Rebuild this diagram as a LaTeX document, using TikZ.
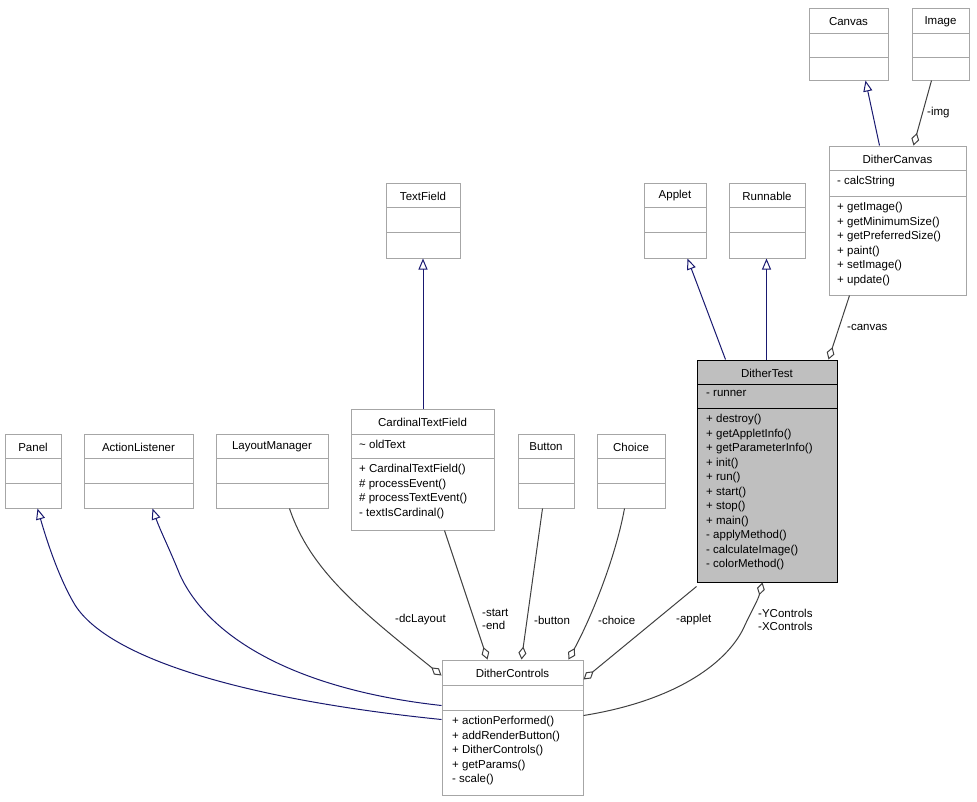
\documentclass[tikz,border=0pt]{standalone}
\usepackage{fontspec}
\setmainfont{Liberation Sans}
\usetikzlibrary{arrows.meta}
\definecolor{edgeblue}{HTML}{191970}
\definecolor{edgegray}{HTML}{404040}
\tikzset{
  box/.style={draw=black!35,fill=white,inner sep=0pt,line width=1pt},
  sep/.style={draw=black!35,line width=1pt},
  member/.style={anchor=north west,align=left,inner sep=0pt,font=\fontsize{11.5}{14.5}\selectfont},
  inherit/.style={color=edgeblue,line width=1pt,-{Triangle[open,length=11pt,width=9pt]}},
  aggr/.style={color=edgegray,line width=1pt,-{Diamond[open,length=13pt,width=8pt]}},
  lbl/.style={inner sep=0pt,font=\fontsize{11.5}{13}\selectfont,align=left,text=black}
}
% #1 style, #2 x1, #3 y1, #4 x2, #5 y2, #6 first line, #7 second line, #8 title, #9 name
\newcommand\umlbox[9][box]{%
  \node[#1,minimum width={#4-#2},minimum height={#5-#3}] (#9) at ({(#2+#4)/2},{(#3+#5)/2}) {};
  \draw[sep] (#2,#6) -- (#4,#6) (#2,#7) -- (#4,#7);
  \node[lbl] at ({(#2+#4)/2},{(#3+#6)/2+1}) {#8};
}
\begin{document}
\begin{tikzpicture}[x=1pt,y=-1pt,font=\fontsize{11.5}{13}\selectfont]
\useasboundingbox (0,0) rectangle (977,801);
% boxes
\umlbox{809}{8}{888}{80}{33}{57}{Canvas}{canvas}
\umlbox{912}{8}{969}{80}{33}{57}{Image}{image}
\umlbox{829}{146}{966}{295}{170}{196}{DitherCanvas}{dcanvas}
\node[member] at (837,176) {- calcString};
\node[member] at (837,202) {+ getImage()\\+ getMinimumSize()\\+ getPreferredSize()\\+ paint()\\+ setImage()\\+ update()};
\umlbox{386}{183}{460}{258}{207}{232}{TextField}{textfield}
\umlbox{644}{183}{706}{258}{207}{232}{Applet}{applet}
\umlbox{729}{183}{805}{258}{207}{232}{Runnable}{runnable}
\umlbox[box,draw=black,fill=black!25]{697}{360}{837}{582}{384}{408}{DitherTest}{dtest}
\draw[line width=1pt] (697,384) -- (837,384) (697,408) -- (837,408);
\node[member] at (706,390) {- runner};
\node[member] at (706,414) {+ destroy()\\+ getAppletInfo()\\+ getParameterInfo()\\+ init()\\+ run()\\+ start()\\+ stop()\\+ main()\\- applyMethod()\\- calculateImage()\\- colorMethod()};
\umlbox{351}{409}{494}{530}{434}{458}{CardinalTextField}{ctf}
\node[member] at (359,440) {\textasciitilde{} oldText};
\node[member] at (359,464) {+ CardinalTextField()\\\# processEvent()\\\# processTextEvent()\\- textIsCardinal()};
\umlbox{5}{434}{61}{508}{458}{483}{Panel}{panel}
\umlbox{84}{434}{193}{508}{458}{483}{ActionListener}{alistener}
\umlbox{216}{434}{328}{508}{458}{483}{LayoutManager}{lmanager}
\umlbox{518}{434}{574}{508}{458}{483}{Button}{button}
\umlbox{597}{434}{665}{508}{458}{483}{Choice}{choice}
\umlbox{442}{660}{583}{795}{685}{710}{DitherControls}{dcontrols}
\node[member] at (452,716) {+ actionPerformed()\\+ addRenderButton()\\+ DitherControls()\\+ getParams()\\- scale()};
% inheritance
\draw[inherit] ([xshift=51pt]dcanvas.north west) -- ([xshift=57pt]canvas.south west);
\draw[inherit] ([xshift=29pt]dtest.north west) -- ([xshift=44pt]applet.south west);
\draw[inherit] ([xshift=70pt]dtest.north west) -- ([xshift=38pt]runnable.south west);
\draw[inherit] (ctf.north -| textfield.south) -- (textfield.south);
\draw[inherit] ([yshift=-60pt]dcontrols.north west) .. controls (250,700) and (110,660) .. (75,605) .. controls (60,580) and (48,545) .. ([xshift=33pt]panel.south west);
\draw[inherit] ([yshift=-46pt]dcontrols.north west) .. controls (300,690) and (210,640) .. (180,575) .. controls (170,550) and (160,530) .. ([xshift=69pt]alistener.south west);
% aggregation
\draw[aggr] ([xshift=20pt]image.south west) -- ([xshift=85pt]dcanvas.north west);
\node[lbl,anchor=west] at (927,113) {-img};
\draw[aggr] ([xshift=21pt]dcanvas.south west) -- ([xshift=132pt]dtest.north west);
\node[lbl,anchor=west] at (847,327) {-canvas};
\draw[aggr] ([xshift=74pt]lmanager.south west) .. controls (310,570) and (360,610) .. ([yshift=-16pt]dcontrols.north west);
\node[lbl,anchor=west] at (395,620) {-dcLayout};
\draw[aggr] ([xshift=94pt]ctf.south west) -- ([xshift=46pt]dcontrols.north west);
\node[lbl,anchor=west] at (482,619) {-start\\-end};
\draw[aggr] ([xshift=25pt]button.south west) -- ([xshift=80pt]dcontrols.north west);
\node[lbl,anchor=west] at (534,620) {-button};
\draw[aggr] ([xshift=28pt]choice.south west) .. controls (615,560) and (590,620) .. ([xshift=127pt]dcontrols.north west);
\node[lbl,anchor=west] at (598,620) {-choice};
\draw[aggr] ([yshift=-4pt]dtest.south west) -- ([yshift=-20pt]dcontrols.north east);
\node[lbl,anchor=west] at (676,620) {-applet};
\draw[aggr] ([yshift=-56pt]dcontrols.north east) .. controls (680,700) and (730,660) .. (745,625) .. controls (752,610) and (758,600) .. ([xshift=66pt]dtest.south west);
\node[lbl,anchor=west] at (758,620) {-YControls\\-XControls};
\end{tikzpicture}
\end{document}
